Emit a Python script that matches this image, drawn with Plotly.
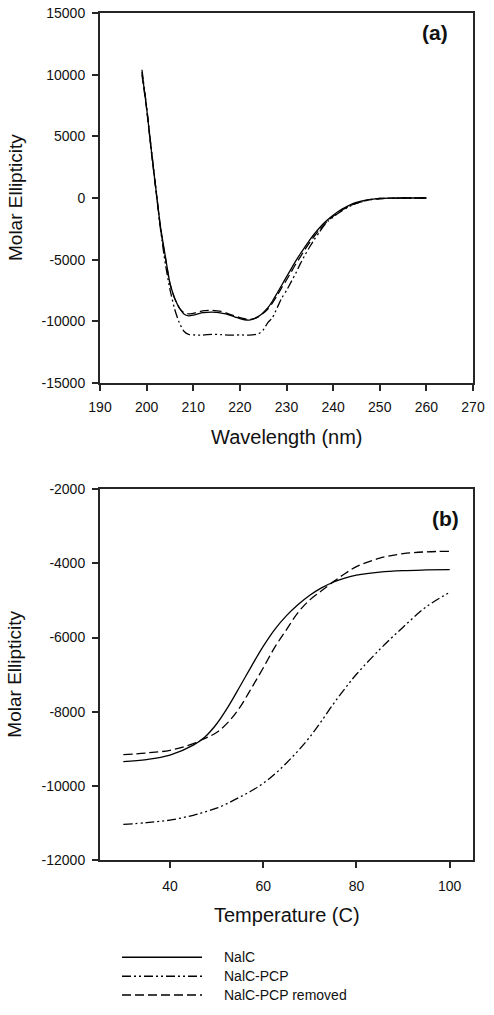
import plotly.graph_objects as go

# ---------------- Data: panel (a) CD spectra ----------------
wl_nalc = [199, 200, 201, 202, 203, 204, 205, 206, 207, 208, 209, 210, 211, 212, 213, 214, 215, 216, 217, 218,
           219, 220, 221, 222, 223, 224, 225, 226, 227, 228, 229, 230, 231, 232, 233, 234, 235, 236, 237, 238,
           239, 240, 241, 242, 243, 244, 245, 246, 247, 248, 249, 250, 252, 255, 260]
cd_nalc = [10200, 7300, 3900, 700, -2400, -4700, -6900, -8100, -8900, -9400, -9550, -9500, -9400, -9300, -9270,
           -9260, -9280, -9330, -9400, -9520, -9650, -9780, -9870, -9900, -9800, -9600, -9300, -8900, -8350, -7700,
           -7050, -6400, -5750, -5100, -4500, -3950, -3400, -2900, -2450, -2050, -1700, -1400, -1120, -880, -680,
           -500, -360, -260, -180, -120, -70, -40, -10, 0, 0]

wl_pcp = [199, 200, 201, 202, 203, 204, 205, 206, 207, 208, 209, 210, 212, 214, 216, 218, 220, 222, 224, 225,
          226, 227, 228, 229, 230, 231, 232, 233, 234, 235, 236, 237, 238, 239, 240, 241, 242, 243, 244, 245,
          246, 247, 248, 249, 250, 252, 255, 260]
cd_pcp = [10400, 7400, 4000, 700, -2600, -5300, -7400, -9000, -10100, -10800, -11050, -11100, -11120, -11050,
          -11080, -11120, -11100, -11120, -11000, -10700, -10100, -9700, -8900, -8100, -7500, -6800, -6100, -5300,
          -4600, -3950, -3350, -2800, -2250, -1850, -1550, -1250, -1000, -780, -590, -440, -320, -220, -140, -80,
          -40, -10, 0, 0]

wl_rem = [199, 200, 201, 202, 203, 204, 205, 206, 207, 208, 209, 210, 212, 214, 216, 218, 220, 222, 223, 224,
          225, 226, 227, 228, 229, 230, 231, 232, 233, 234, 235, 236, 237, 238, 239, 240, 242, 244, 246, 248,
          250, 252, 255, 260]
cd_rem = [10000, 7200, 3800, 600, -2500, -4800, -6950, -8150, -8900, -9300, -9400, -9350, -9150, -9100, -9200,
          -9450, -9700, -9850, -9780, -9620, -9350, -9000, -8500, -7900, -7250, -6650, -6000, -5350, -4750, -4150,
          -3600, -3080, -2600, -2180, -1800, -1480, -950, -560, -300, -140, -50, -10, 0, 0]

# ---------------- Data: panel (b) thermal melts ----------------
temp = [30, 35, 40, 45, 47.5, 50, 52.5, 55, 57.5, 60, 62.5, 65, 67.5, 70, 72.5, 75, 77.5, 80, 85, 90, 95, 100]
melt_nalc = [-9345, -9290, -9170, -8900, -8680, -8330, -7860, -7320, -6770, -6240, -5780, -5410, -5110, -4860,
             -4660, -4510, -4400, -4320, -4235, -4195, -4178, -4168]
melt_pcp = [-11037, -10990, -10920, -10790, -10700, -10600, -10460, -10300, -10130, -9930, -9680, -9380, -9050,
            -8680, -8250, -7800, -7380, -6990, -6320, -5720, -5170, -4780]
melt_rem = [-9158, -9110, -9040, -8860, -8720, -8560, -8280, -7880, -7360, -6820, -6260, -5785, -5320, -4985,
            -4740, -4500, -4280, -4090, -3860, -3740, -3690, -3676]

series_names = ["NalC", "NalC-PCP", "NalC-PCP removed"]
dash_styles = ["solid", "9px,3px,2px,3px,2px,3px", "9px,4px"]

# ---------------- Tick labels ----------------
a_xticks = [190, 200, 210, 220, 230, 240, 250, 260, 270]
a_yticks = [-15000, -10000, -5000, 0, 5000, 10000, 15000]
a_yticktext = ["-15000", "-10000", "-5000", "0", "5000", "10000", "15000"]
b_xticks = [40, 60, 80, 100]
b_yticks = [-12000, -10000, -8000, -6000, -4000, -2000]
b_yticktext = ["-12000", "-10000", "-8000", "-6000", "-4000", "-2000"]

FONT = "Liberation Sans, Arial, sans-serif"
AX = "#262626"
LW = 1.3

fig = go.Figure()

panel_a = [(wl_nalc, cd_nalc), (wl_pcp, cd_pcp), (wl_rem, cd_rem)]
panel_b = [(temp, melt_nalc), (temp, melt_pcp), (temp, melt_rem)]

for (x, y), name, dash in zip(panel_a, series_names, dash_styles):
    fig.add_trace(go.Scatter(x=x, y=y, mode="lines", name=name, showlegend=False,
                             line=dict(color="black", width=LW, dash=dash, shape="spline", smoothing=0.6),
                             xaxis="x", yaxis="y"))
for (x, y), name, dash in zip(panel_b, series_names, dash_styles):
    fig.add_trace(go.Scatter(x=x, y=y, mode="lines", name=name, showlegend=False,
                             line=dict(color="black", width=LW, dash=dash, shape="spline", smoothing=1.0),
                             xaxis="x2", yaxis="y2"))

# legend drawn in a hidden axis below panel (b)
for i, (name, dash) in enumerate(zip(series_names, dash_styles)):
    fig.add_trace(go.Scatter(x=[0, 1], y=[i, i], mode="lines", showlegend=False, hoverinfo="skip",
                             line=dict(color="black", width=1.5, dash=dash),
                             xaxis="x3", yaxis="y3"))

axis_common = dict(showline=True, mirror=True, linecolor=AX, linewidth=2, ticks="outside",
                   ticklen=6, tickwidth=1.5, tickcolor=AX, showgrid=False, zeroline=False,
                   tickfont=dict(family=FONT, size=14, color="#111"))

H = 997.0  # plot area height in px (1015 - 13 - 5)
def py(px):
    return 1 - (px - 13) / H

fig.update_layout(
    width=494, height=1015,
    margin=dict(l=100, r=21, t=13, b=5),
    paper_bgcolor="white", plot_bgcolor="white",
    font=dict(family=FONT, size=14, color="#111"),
    xaxis=dict(domain=[0, 1], anchor="y", range=[190, 270], tickvals=a_xticks,
               ticklabelstandoff=4, **axis_common),
    yaxis=dict(domain=[py(386), 1], anchor="x", range=[-15000, 15000], tickvals=a_yticks,
               ticktext=a_yticktext, ticklabelstandoff=4, **axis_common),
    xaxis2=dict(domain=[0, 1], anchor="y2", range=[25, 105], tickvals=b_xticks,
                ticklabelstandoff=6, **axis_common),
    yaxis2=dict(domain=[py(867), py(493)], anchor="x2", range=[-12000, -2000], tickvals=b_yticks,
                ticktext=b_yticktext, ticklabelstandoff=4, **axis_common),
    xaxis3=dict(domain=[22 / 373, (22 + 80 * 3.0) / 373], anchor="y3", range=[0, 3.0], visible=False),
    yaxis3=dict(domain=[0, py(955)], anchor="x3", range=[2 + 7 / 19, -10 / 19], visible=False),
)

ann = []
ann.append(dict(text="Wavelength (nm)", xref="x domain", yref="y domain", x=0.5, y=-(440 - 386) / 373,
                xanchor="center", yanchor="middle", showarrow=False, font=dict(family=FONT, size=20)))
ann.append(dict(text="Molar Ellipticity", xref="x domain", yref="y domain", x=-85 / 373, y=0.5, textangle=-90,
                xanchor="center", yanchor="middle", showarrow=False, font=dict(family=FONT, size=19)))
ann.append(dict(text="<b>(a)</b>", xref="x domain", yref="y domain", x=(435 - 100) / 373, y=1 - 20 / 373,
                xanchor="center", yanchor="middle", showarrow=False, font=dict(family=FONT, size=21)))
ann.append(dict(text="Temperature (C)", xref="x2 domain", yref="y2 domain", x=0.5, y=-(922 - 867) / 374,
                xanchor="center", yanchor="middle", showarrow=False, font=dict(family=FONT, size=20)))
ann.append(dict(text="Molar Ellipticity", xref="x2 domain", yref="y2 domain", x=-85 / 373, y=0.5, textangle=-90,
                xanchor="center", yanchor="middle", showarrow=False, font=dict(family=FONT, size=19)))
ann.append(dict(text="<b>(b)</b>", xref="x2 domain", yref="y2 domain", x=(445 - 100) / 373, y=1 - 30 / 374,
                xanchor="center", yanchor="middle", showarrow=False, font=dict(family=FONT, size=21)))
for i, name in enumerate(series_names):
    ann.append(dict(text=name, xref="x3", yref="y3", x=1.25, y=i, xanchor="left", yanchor="middle",
                    showarrow=False, font=dict(family=FONT, size=14)))
fig.update_layout(annotations=ann)

fig.write_html("out.html", config={"displayModeBar": False},
               post_script="document.body.style.margin='0';")
